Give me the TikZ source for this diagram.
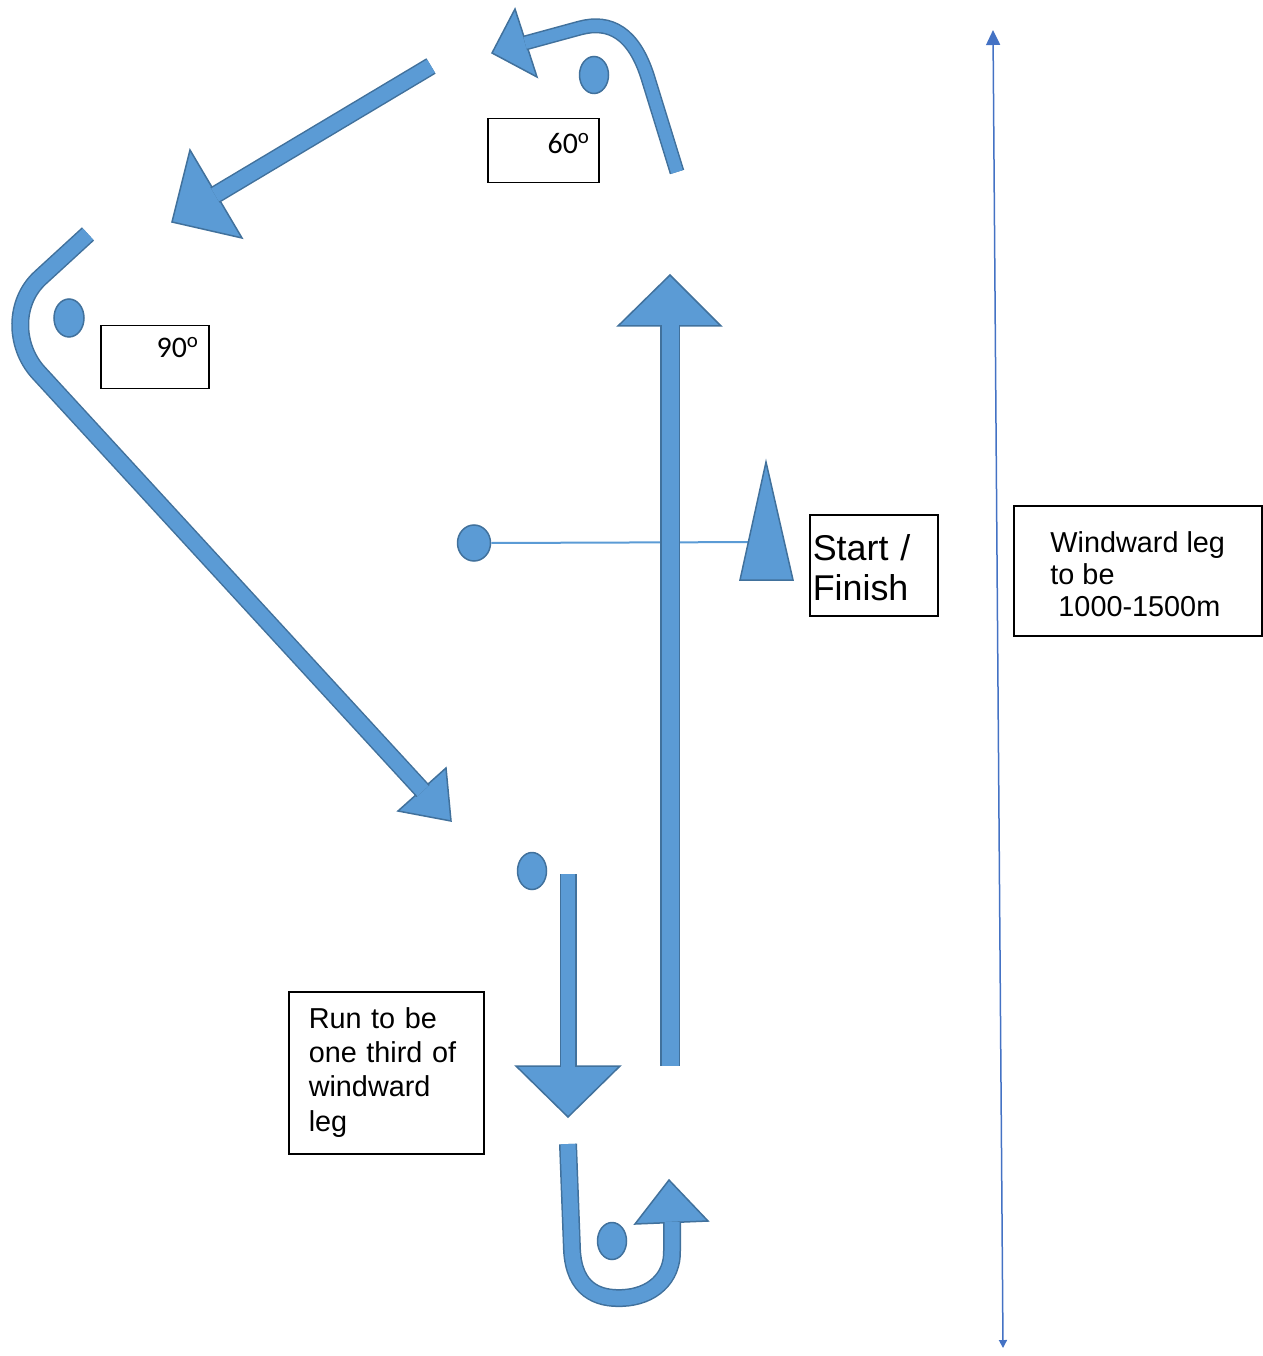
\documentclass[tikz,border=0pt]{standalone}
\usepackage{fontspec}
\setmainfont{Liberation Sans}
\newfontfamily\calibri{Carlito}
\definecolor{markblue}{RGB}{91,155,213}
\definecolor{markedge}{RGB}{65,113,156}
\definecolor{lineblue}{RGB}{68,114,196}
\usetikzlibrary{shapes, arrows.meta, positioning, calc}

\begin{document}
\begin{tikzpicture}[x=0.1mm, y=-0.1mm,
    buoy/.style={draw=markedge, fill=markblue, ellipse, line width=0.15mm,
      minimum width=2.9mm, minimum height=3.7mm, inner sep=0pt},
    shaft/.style={draw=markedge, line width=0.15mm, double=markblue,
      double distance=1.5mm},
    head/.style={draw=markedge, fill=markblue, line width=0.15mm},
    txtbox/.style={draw, line width=0.15mm, anchor=north west,
      inner ysep=0pt, align=left}
  ]
  \useasboundingbox (0,0) rectangle (1262,1356);

    % marks of the course
    \node[buoy] (topmark) at (594,75) {};
    \node[buoy, minimum width=3mm, minimum height=3.8mm] (leftmark) at (69,318) {};
    \node[buoy, minimum width=3.3mm, minimum height=3.6mm] (startmark) at (474,543) {};
    \node[buoy] (runmark) at (532,871) {};
    \node[buoy] (botmark) at (612,1241) {};

    % start line and committee boat
    \coordinate (flag) at (766,542);
    \draw[markblue, line width=0.2mm] (startmark.east) -- (flag);
    \filldraw[head] (766,462) -- (793,580) -- (740,580) -- cycle;

    % windward leg
    \filldraw[head] (618,326) -- (670,275) -- (721,326) -- cycle;
    \draw[shaft, double distance=1.7mm] (670,1066) -- (670,325);

    % top mark rounding
    \filldraw[head] (515,9) -- (492,53) -- (537,77) -- cycle;
    \draw[shaft, double distance=1.2mm]
      (677,172) -- (648,78) .. controls (634,33) and (610,20) .. (580,28) -- (525,43);

    % reach
    \filldraw[head] (190,150) -- (172,222) -- (242,238) -- cycle;
    \draw[shaft] (431,66) -- (215,195);

    % wing mark rounding and broad reach
    \filldraw[head] (446,768) -- (451,821) -- (398,811) -- cycle;
    \draw[shaft]
      (88,234) -- (40,278) .. controls (14,302) and (14,345) .. (38,372) -- (423,791);

    % run
    \filldraw[head] (516,1066) -- (568,1117) -- (620,1066) -- cycle;
    \draw[shaft, double distance=1.4mm] (568,874) -- (568,1067);

    % leeward mark rounding
    \filldraw[head] (635,1224) -- (669,1180) -- (708,1221) -- cycle;
    \draw[shaft]
      (568,1144) -- (572,1250) .. controls (574,1290) and (598,1299) .. (622,1298)
      .. controls (652,1297) and (673,1278) .. (672,1250) -- (672,1222);

    % length of the course
    \coordinate (legtop) at (993,30);
    \coordinate (legbot) at (1003,1348);
    \draw[lineblue, line width=0.15mm,
      {Triangle[length=1.5mm, width=1.4mm]}-{Triangle[length=0.8mm, width=0.8mm]}]
      (legtop) -- (legbot);

    % labels
    \node[txtbox, align=right, text width=9.5mm, inner xsep=0.8mm,
          text height=3.5mm, text depth=2.9mm,
          font=\calibri\fontsize{8.5pt}{10pt}\selectfont] (sixty) at (487,118)
      {60\textsuperscript{o}};
    \node[txtbox, align=right, text width=9mm, inner xsep=0.9mm,
          text height=3.2mm, text depth=3.1mm,
          font=\calibri\fontsize{8.5pt}{10pt}\selectfont] (ninety) at (100,325)
      {90\textsuperscript{o}};
    \node[txtbox, text width=12.2mm, inner xsep=0.3mm,
          text height=4.6mm, text depth=5.5mm,
          font=\fontsize{10.2pt}{11.4pt}\selectfont] (startfin) at (809,514)
      {Start /\\Finish};
    \node[txtbox, text width=15.5mm, inner xsep=2mm,
          text height=3.7mm, text depth=12.5mm,
          font=\fontsize{8.2pt}{9.7pt}\selectfont] (runlabel) at (288,991)
      {Run to be\\one third of\\windward\\leg};
    \node[txtbox, minimum width=24.8mm, inner xsep=0pt,
          text height=11.1mm, text depth=1.9mm,
          font=\fontsize{8.2pt}{9.1pt}\selectfont] (leglabel) at (1013,505)
      {Windward leg\\to be\\\hspace*{0.8mm}1000-1500m};
  \end{tikzpicture}
\end{document}
